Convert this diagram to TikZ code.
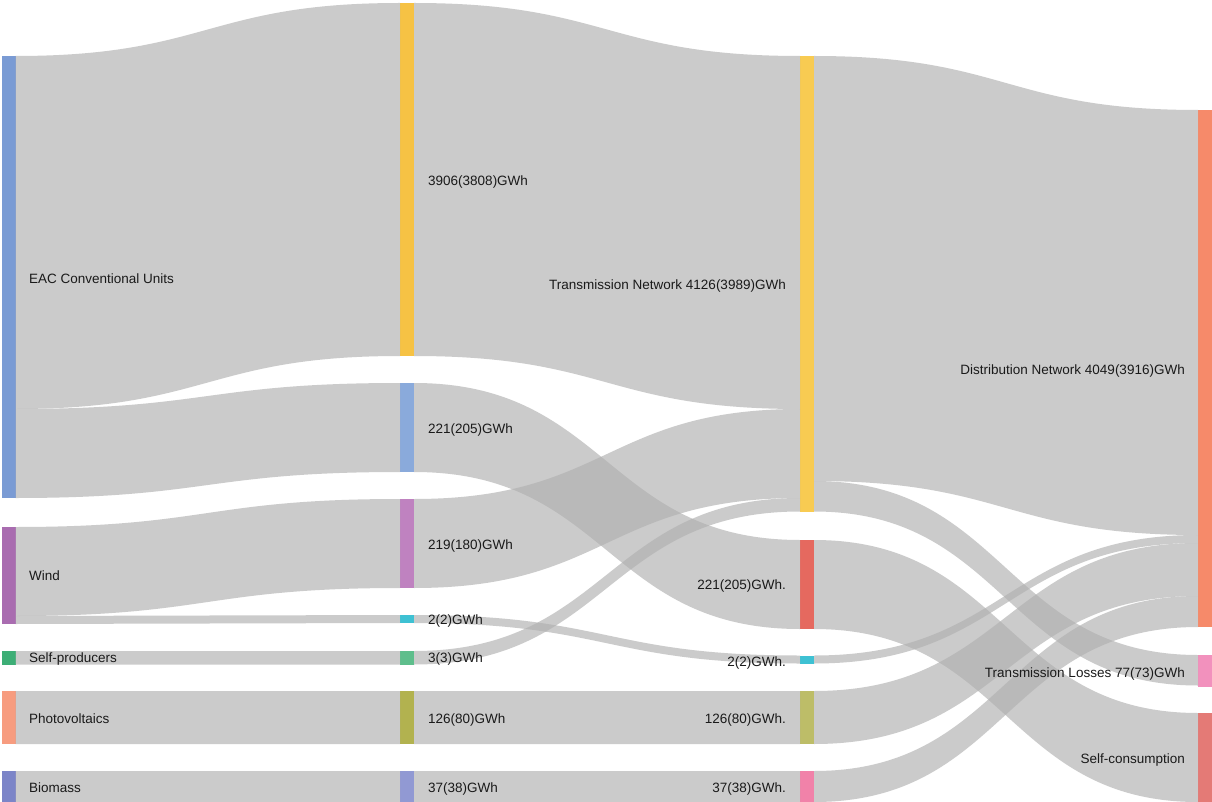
\documentclass[tikz,border=0pt]{standalone}
\usepackage{fontspec}
\setmainfont{Liberation Sans}
\usetikzlibrary{calc}
\definecolor{cEAC}{HTML}{7A9BD4}
\definecolor{cWind}{HTML}{A96CB0}
\definecolor{cSP}{HTML}{3DAE76}
\definecolor{cPV}{HTML}{F79C7F}
\definecolor{cBio}{HTML}{7C85C8}
\definecolor{cYel}{HTML}{F6C244}
\definecolor{cBlue2}{HTML}{8AAADB}
\definecolor{cPur2}{HTML}{BF82C0}
\definecolor{cCyan}{HTML}{3EC1D3}
\definecolor{cGreen2}{HTML}{5EBE8C}
\definecolor{cOlive2}{HTML}{B2B24F}
\definecolor{cSlate2}{HTML}{9199D3}
\definecolor{cYel3}{HTML}{F8CB52}
\definecolor{cRed3}{HTML}{E5695F}
\definecolor{cOlive3}{HTML}{BDBD68}
\definecolor{cPink3}{HTML}{F182A9}
\definecolor{cOrange}{HTML}{F68A6A}
\definecolor{cPink4}{HTML}{F291BD}
\definecolor{cRed4}{HTML}{E47A76}
\definecolor{flowgray}{HTML}{B0B0B0}
\definecolor{txt}{HTML}{1A1A1A}
\newcommand\sflow[5]{%
  \path ($(#1.north east)+(0,#2)$) coordinate (fs1)
        ($(#1.north east)+(0,#2+#5)$) coordinate (fs2)
        ($(#3.north west)+(0,#4)$) coordinate (ft1)
        ($(#3.north west)+(0,#4+#5)$) coordinate (ft2);
  \fill[flowfill] let \p1=(fs1), \p2=(ft1), \p3=(fs2), \p4=(ft2), \p5=($(fs1)!0.5!(ft1)$) in
    (\p1) .. controls (\x5,\y1) and (\x5,\y2) .. (\p2) -- (\p4) .. controls (\x5,\y4) and (\x5,\y3) .. (\p3) -- cycle;
}
\begin{document}
\begin{tikzpicture}[x=1pt,y=-1pt,
  bar/.style={draw=none,inner sep=0pt,outer sep=0pt,minimum width=14pt,anchor=north west},
  flowfill/.style={fill=flowgray,fill opacity=0.65},
  lbl/.style={inner sep=0pt,text=txt,font=\fontsize{13.5}{16}\selectfont,text height=0.72em,text depth=0pt,yshift=-2pt},
  lbll/.style={lbl,anchor=west},
  lblr/.style={lbl,anchor=east}]
\fill[white] (0,0) rectangle (1212,802);
\useasboundingbox (0,0) rectangle (1212,802);
% column 1
\node[bar,fill=cEAC,minimum height=442pt] (eac) at (1.5,56) {};
\node[bar,fill=cWind,minimum height=97pt] (wind) at (1.5,527) {};
\node[bar,fill=cSP,minimum height=13.5pt] (sp) at (1.5,651) {};
\node[bar,fill=cPV,minimum height=53pt] (pv) at (1.5,691) {};
\node[bar,fill=cBio,minimum height=31pt] (bio) at (1.5,771) {};
% column 2
\node[bar,fill=cYel,minimum height=353pt] (conv2) at (400,3) {};
\node[bar,fill=cBlue2,minimum height=89pt] (eac2) at (400,383) {};
\node[bar,fill=cPur2,minimum height=89pt] (wind2) at (400,499) {};
\node[bar,fill=cCyan,minimum height=8pt] (wsm2) at (400,615) {};
\node[bar,fill=cGreen2,minimum height=13.5pt] (sp2) at (400,651) {};
\node[bar,fill=cOlive2,minimum height=53pt] (pv2) at (400,691) {};
\node[bar,fill=cSlate2,minimum height=31pt] (bio2) at (400,771) {};
% column 3
\node[bar,fill=cYel3,minimum height=455.5pt] (tn) at (800,56) {};
\node[bar,fill=cRed3,minimum height=89pt] (eac3) at (800,540) {};
\node[bar,fill=cCyan,minimum height=8pt] (wsm3) at (800,655.5) {};
\node[bar,fill=cOlive3,minimum height=53pt] (pv3) at (800,691) {};
\node[bar,fill=cPink3,minimum height=31pt] (bio3) at (800,771) {};
% column 4
\node[bar,fill=cOrange,minimum height=517pt] (dist) at (1198,110) {};
\node[bar,fill=cPink4,minimum height=32pt] (loss) at (1198,655) {};
\node[bar,fill=cRed4,minimum height=89pt] (selfc) at (1198,713) {};
% flows column 1 -> 2
\sflow{eac}{0}{conv2}{0}{353}
\sflow{eac}{353}{eac2}{0}{89}
\sflow{wind}{0}{wind2}{0}{89}
\sflow{wind}{89}{wsm2}{0}{8}
\sflow{sp}{0}{sp2}{0}{13.5}
\sflow{pv}{0}{pv2}{0}{53}
\sflow{bio}{0}{bio2}{0}{31}
% flows column 2 -> 3
\sflow{conv2}{0}{tn}{0}{353}
\sflow{eac2}{0}{eac3}{0}{89}
\sflow{wind2}{0}{tn}{353}{89}
\sflow{wsm2}{0}{wsm3}{0}{8}
\sflow{sp2}{0}{tn}{442}{13.5}
\sflow{pv2}{0}{pv3}{0}{53}
\sflow{bio2}{0}{bio3}{0}{31}
% flows column 3 -> 4
\sflow{tn}{0}{dist}{0}{425}
\sflow{tn}{425}{loss}{0}{30.5}
\sflow{eac3}{0}{selfc}{0}{89}
\sflow{wsm3}{0}{dist}{425}{8}
\sflow{pv3}{0}{dist}{433}{53}
\sflow{bio3}{0}{dist}{486}{31}
% labels
\node[lbll] (l1) at (29,278) {EAC Conventional Units};
\node[lbll] (l2) at (29,575) {Wind};
\node[lbll] (l3) at (29,657) {Self-producers};
\node[lbll] (l4) at (29,718) {Photovoltaics};
\node[lbll] (l5) at (29,787) {Biomass};
\node[lbll] (l6) at (428,180) {3906(3808)GWh};
\node[lbll] (l7) at (428,428) {221(205)GWh};
\node[lbll] (l8) at (428,544) {219(180)GWh};
\node[lbll] (l9) at (428,619) {2(2)GWh};
\node[lbll] (l10) at (428,657) {3(3)GWh};
\node[lbll] (l11) at (428,718) {126(80)GWh};
\node[lbll] (l12) at (428,787) {37(38)GWh};
\node[lblr] (l13) at (786,284) {Transmission Network 4126(3989)GWh};
\node[lblr] (l14) at (786,584) {221(205)GWh.};
\node[lblr] (l15) at (786,661) {2(2)GWh.};
\node[lblr] (l16) at (786,718) {126(80)GWh.};
\node[lblr] (l17) at (786,787) {37(38)GWh.};
\node[lblr] (l18) at (1185,369) {Distribution Network 4049(3916)GWh};
\node[lblr] (l19) at (1185,672) {Transmission Losses 77(73)GWh};
\node[lblr] (l20) at (1185,758) {Self-consumption};
\end{tikzpicture}
\end{document}
